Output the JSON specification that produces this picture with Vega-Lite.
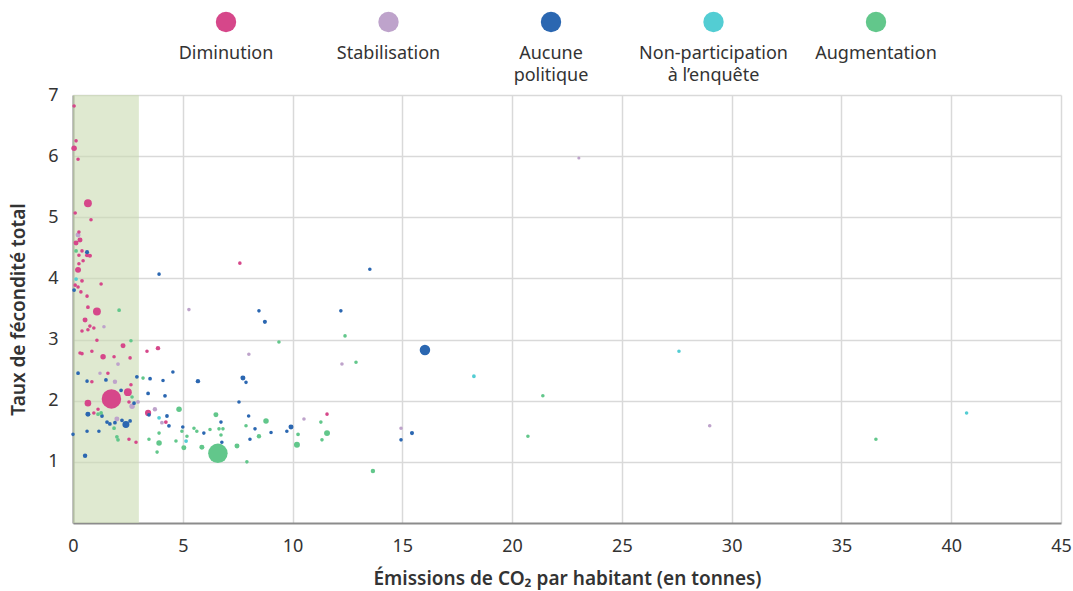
{
  "$schema": "https://vega.github.io/schema/vega-lite/v6.json",
  "padding": {"left": 9, "top": 5, "right": 1, "bottom": 3},
  "bounds": "flush",
  "spacing": 56,
  "config": {
    "font": "Noto Sans",
    "view": {"stroke": null},
    "axis": {
      "labelFont": "Noto Sans", "labelFontSize": 18, "labelColor": "#333333",
      "titleFont": "Noto Sans", "titleFontSize": 19, "titleFontWeight": 600, "titleColor": "#333333",
      "ticks": false, "domainColor": "#8c8c8c", "domainWidth": 2,
      "gridColor": "#d9d9d9", "gridWidth": 1.5, "labelFlush": false
    }
  },
  "datasets": {
    "legend": [
      {"policy": "Diminution", "label": "Diminution"},
      {"policy": "Stabilisation", "label": "Stabilisation"},
      {"policy": "Aucune politique", "label": "Aucune\npolitique"},
      {"policy": "Non-participation à l’enquête", "label": "Non-participation\nà l’enquête"},
      {"policy": "Augmentation", "label": "Augmentation"}
    ],
    "band": [{"x": 0, "x2": 3}],
    "pts": [
      {"x": 0.05, "y": 6.82, "c": "Diminution", "p": 15},
      {"x": 0.05, "y": 6.13, "c": "Diminution", "p": 80},
      {"x": 0.14, "y": 6.25, "c": "Diminution", "p": 15},
      {"x": 0.23, "y": 5.95, "c": "Diminution", "p": 15},
      {"x": 0.68, "y": 5.23, "c": "Diminution", "p": 200},
      {"x": 0.10, "y": 5.07, "c": "Diminution", "p": 15},
      {"x": 0.82, "y": 4.96, "c": "Diminution", "p": 15},
      {"x": 0.27, "y": 4.76, "c": "Diminution", "p": 15},
      {"x": 0.32, "y": 4.63, "c": "Diminution", "p": 60},
      {"x": 0.14, "y": 4.58, "c": "Diminution", "p": 60},
      {"x": 0.41, "y": 4.45, "c": "Diminution", "p": 15},
      {"x": 0.64, "y": 4.38, "c": "Diminution", "p": 30},
      {"x": 0.77, "y": 4.37, "c": "Diminution", "p": 30},
      {"x": 0.27, "y": 4.38, "c": "Diminution", "p": 15},
      {"x": 0.46, "y": 4.29, "c": "Diminution", "p": 15},
      {"x": 0.27, "y": 4.24, "c": "Diminution", "p": 15},
      {"x": 0.23, "y": 4.14, "c": "Diminution", "p": 100},
      {"x": 0.41, "y": 3.96, "c": "Diminution", "p": 20},
      {"x": 0.10, "y": 3.89, "c": "Diminution", "p": 15},
      {"x": 0.23, "y": 3.86, "c": "Diminution", "p": 15},
      {"x": 0.36, "y": 3.78, "c": "Diminution", "p": 15},
      {"x": 1.28, "y": 3.91, "c": "Diminution", "p": 15},
      {"x": 0.64, "y": 3.71, "c": "Diminution", "p": 15},
      {"x": 0.68, "y": 3.53, "c": "Diminution", "p": 20},
      {"x": 1.09, "y": 3.46, "c": "Diminution", "p": 200},
      {"x": 0.55, "y": 3.32, "c": "Diminution", "p": 60},
      {"x": 0.77, "y": 3.22, "c": "Diminution", "p": 15},
      {"x": 0.95, "y": 3.19, "c": "Diminution", "p": 15},
      {"x": 0.41, "y": 3.14, "c": "Diminution", "p": 15},
      {"x": 0.68, "y": 3.16, "c": "Diminution", "p": 15},
      {"x": 1.09, "y": 2.99, "c": "Diminution", "p": 15},
      {"x": 0.32, "y": 2.78, "c": "Diminution", "p": 15},
      {"x": 0.41, "y": 2.77, "c": "Diminution", "p": 15},
      {"x": 0.86, "y": 2.81, "c": "Diminution", "p": 15},
      {"x": 1.37, "y": 2.72, "c": "Diminution", "p": 80},
      {"x": 2.28, "y": 2.90, "c": "Diminution", "p": 60},
      {"x": 1.87, "y": 2.72, "c": "Diminution", "p": 15},
      {"x": 2.60, "y": 2.70, "c": "Diminution", "p": 15},
      {"x": 1.59, "y": 2.45, "c": "Diminution", "p": 15},
      {"x": 0.86, "y": 2.31, "c": "Diminution", "p": 15},
      {"x": 2.64, "y": 2.26, "c": "Diminution", "p": 15},
      {"x": 1.75, "y": 2.03, "c": "Diminution", "p": 1400},
      {"x": 2.50, "y": 2.14, "c": "Diminution", "p": 200},
      {"x": 0.68, "y": 1.96, "c": "Diminution", "p": 130},
      {"x": 1.14, "y": 1.86, "c": "Diminution", "p": 15},
      {"x": 0.95, "y": 1.80, "c": "Diminution", "p": 15},
      {"x": 2.55, "y": 1.37, "c": "Diminution", "p": 15},
      {"x": 2.87, "y": 1.32, "c": "Diminution", "p": 15},
      {"x": 3.42, "y": 1.80, "c": "Diminution", "p": 110},
      {"x": 4.23, "y": 1.65, "c": "Diminution", "p": 20},
      {"x": 3.87, "y": 2.86, "c": "Diminution", "p": 40},
      {"x": 3.37, "y": 2.81, "c": "Diminution", "p": 15},
      {"x": 7.60, "y": 4.25, "c": "Diminution", "p": 15},
      {"x": 11.57, "y": 1.78, "c": "Diminution", "p": 15},
      {"x": 2.55, "y": 1.98, "c": "Diminution", "p": 15},
      {"x": 0.23, "y": 4.71, "c": "Stabilisation", "p": 60},
      {"x": 1.41, "y": 3.21, "c": "Stabilisation", "p": 15},
      {"x": 2.05, "y": 2.60, "c": "Stabilisation", "p": 20},
      {"x": 1.23, "y": 2.45, "c": "Stabilisation", "p": 15},
      {"x": 1.91, "y": 2.31, "c": "Stabilisation", "p": 40},
      {"x": 2.69, "y": 1.91, "c": "Stabilisation", "p": 80},
      {"x": 2.96, "y": 1.98, "c": "Stabilisation", "p": 20},
      {"x": 2.00, "y": 1.70, "c": "Stabilisation", "p": 60},
      {"x": 3.73, "y": 1.86, "c": "Stabilisation", "p": 40},
      {"x": 4.05, "y": 1.64, "c": "Stabilisation", "p": 20},
      {"x": 5.28, "y": 3.49, "c": "Stabilisation", "p": 15},
      {"x": 8.01, "y": 2.76, "c": "Stabilisation", "p": 15},
      {"x": 12.25, "y": 2.60, "c": "Stabilisation", "p": 15},
      {"x": 10.52, "y": 1.70, "c": "Stabilisation", "p": 15},
      {"x": 14.94, "y": 1.55, "c": "Stabilisation", "p": 15},
      {"x": 29.0, "y": 1.59, "c": "Stabilisation", "p": 15},
      {"x": 23.04, "y": 5.97, "c": "Stabilisation", "p": 3},
      {"x": 0.64, "y": 4.43, "c": "Aucune politique", "p": 30},
      {"x": 0.05, "y": 3.81, "c": "Aucune politique", "p": 20},
      {"x": 0.23, "y": 2.45, "c": "Aucune politique", "p": 20},
      {"x": 0.64, "y": 2.32, "c": "Aucune politique", "p": 15},
      {"x": 1.50, "y": 2.34, "c": "Aucune politique", "p": 20},
      {"x": 2.91, "y": 2.39, "c": "Aucune politique", "p": 20},
      {"x": 2.19, "y": 2.17, "c": "Aucune politique", "p": 20},
      {"x": 2.78, "y": 1.96, "c": "Aucune politique", "p": 20},
      {"x": 0.68, "y": 1.78, "c": "Aucune politique", "p": 60},
      {"x": 2.41, "y": 1.61, "c": "Aucune politique", "p": 150},
      {"x": 1.55, "y": 1.65, "c": "Aucune politique", "p": 20},
      {"x": 1.68, "y": 1.62, "c": "Aucune politique", "p": 20},
      {"x": 1.91, "y": 1.64, "c": "Aucune politique", "p": 20},
      {"x": 2.23, "y": 1.68, "c": "Aucune politique", "p": 20},
      {"x": 2.60, "y": 1.67, "c": "Aucune politique", "p": 20},
      {"x": 1.32, "y": 1.75, "c": "Aucune politique", "p": 20},
      {"x": 0.64, "y": 1.50, "c": "Aucune politique", "p": 15},
      {"x": 1.18, "y": 1.50, "c": "Aucune politique", "p": 15},
      {"x": 0.0, "y": 1.45, "c": "Aucune politique", "p": 15},
      {"x": 0.55, "y": 1.10, "c": "Aucune politique", "p": 40},
      {"x": 3.46, "y": 1.77, "c": "Aucune politique", "p": 20},
      {"x": 4.28, "y": 1.75, "c": "Aucune politique", "p": 20},
      {"x": 4.37, "y": 1.59, "c": "Aucune politique", "p": 20},
      {"x": 3.42, "y": 2.12, "c": "Aucune politique", "p": 20},
      {"x": 4.19, "y": 2.08, "c": "Aucune politique", "p": 20},
      {"x": 3.51, "y": 2.36, "c": "Aucune politique", "p": 20},
      {"x": 4.10, "y": 2.33, "c": "Aucune politique", "p": 15},
      {"x": 4.55, "y": 2.47, "c": "Aucune politique", "p": 15},
      {"x": 5.69, "y": 2.32, "c": "Aucune politique", "p": 40},
      {"x": 7.74, "y": 2.37, "c": "Aucune politique", "p": 60},
      {"x": 7.88, "y": 2.30, "c": "Aucune politique", "p": 15},
      {"x": 7.56, "y": 1.98, "c": "Aucune politique", "p": 15},
      {"x": 5.00, "y": 1.57, "c": "Aucune politique", "p": 15},
      {"x": 5.96, "y": 1.47, "c": "Aucune politique", "p": 15},
      {"x": 6.74, "y": 1.65, "c": "Aucune politique", "p": 15},
      {"x": 6.78, "y": 1.32, "c": "Aucune politique", "p": 15},
      {"x": 8.00, "y": 1.75, "c": "Aucune politique", "p": 15},
      {"x": 8.29, "y": 1.54, "c": "Aucune politique", "p": 15},
      {"x": 9.02, "y": 1.48, "c": "Aucune politique", "p": 15},
      {"x": 8.06, "y": 1.37, "c": "Aucune politique", "p": 15},
      {"x": 9.93, "y": 1.57, "c": "Aucune politique", "p": 60},
      {"x": 9.74, "y": 1.50, "c": "Aucune politique", "p": 15},
      {"x": 3.92, "y": 4.07, "c": "Aucune politique", "p": 15},
      {"x": 8.47, "y": 3.47, "c": "Aucune politique", "p": 15},
      {"x": 8.74, "y": 3.29, "c": "Aucune politique", "p": 30},
      {"x": 12.2, "y": 3.47, "c": "Aucune politique", "p": 15},
      {"x": 13.52, "y": 4.15, "c": "Aucune politique", "p": 15},
      {"x": 16.03, "y": 2.83, "c": "Aucune politique", "p": 380},
      {"x": 15.44, "y": 1.47, "c": "Aucune politique", "p": 30},
      {"x": 14.94, "y": 1.36, "c": "Aucune politique", "p": 15},
      {"x": 0.14, "y": 3.99, "c": "Non-participation à l’enquête", "p": 20},
      {"x": 3.92, "y": 1.72, "c": "Non-participation à l’enquête", "p": 20},
      {"x": 5.15, "y": 1.34, "c": "Non-participation à l’enquête", "p": 20},
      {"x": 18.26, "y": 2.40, "c": "Non-participation à l’enquête", "p": 20},
      {"x": 27.6, "y": 2.81, "c": "Non-participation à l’enquête", "p": 15},
      {"x": 40.7, "y": 1.80, "c": "Non-participation à l’enquête", "p": 15},
      {"x": 0.14, "y": 4.45, "c": "Augmentation", "p": 20},
      {"x": 2.10, "y": 3.48, "c": "Augmentation", "p": 20},
      {"x": 2.64, "y": 2.98, "c": "Augmentation", "p": 15},
      {"x": 3.19, "y": 2.37, "c": "Augmentation", "p": 15},
      {"x": 2.69, "y": 2.06, "c": "Augmentation", "p": 15},
      {"x": 1.14, "y": 1.78, "c": "Augmentation", "p": 20},
      {"x": 1.28, "y": 1.80, "c": "Augmentation", "p": 20},
      {"x": 1.87, "y": 1.55, "c": "Augmentation", "p": 20},
      {"x": 2.00, "y": 1.41, "c": "Augmentation", "p": 20},
      {"x": 2.05, "y": 1.36, "c": "Augmentation", "p": 20},
      {"x": 4.83, "y": 1.86, "c": "Augmentation", "p": 80},
      {"x": 3.92, "y": 1.47, "c": "Augmentation", "p": 15},
      {"x": 3.92, "y": 1.31, "c": "Augmentation", "p": 80},
      {"x": 3.46, "y": 1.37, "c": "Augmentation", "p": 15},
      {"x": 3.83, "y": 1.16, "c": "Augmentation", "p": 15},
      {"x": 4.69, "y": 1.34, "c": "Augmentation", "p": 15},
      {"x": 5.05, "y": 1.23, "c": "Augmentation", "p": 60},
      {"x": 4.96, "y": 1.50, "c": "Augmentation", "p": 15},
      {"x": 5.19, "y": 1.42, "c": "Augmentation", "p": 15},
      {"x": 5.51, "y": 1.55, "c": "Augmentation", "p": 15},
      {"x": 5.64, "y": 1.50, "c": "Augmentation", "p": 15},
      {"x": 5.87, "y": 1.24, "c": "Augmentation", "p": 60},
      {"x": 6.24, "y": 1.53, "c": "Augmentation", "p": 15},
      {"x": 6.51, "y": 1.77, "c": "Augmentation", "p": 60},
      {"x": 6.65, "y": 1.54, "c": "Augmentation", "p": 15},
      {"x": 6.83, "y": 1.54, "c": "Augmentation", "p": 15},
      {"x": 6.74, "y": 1.44, "c": "Augmentation", "p": 15},
      {"x": 6.60, "y": 1.14, "c": "Augmentation", "p": 1400},
      {"x": 7.47, "y": 1.26, "c": "Augmentation", "p": 60},
      {"x": 7.88, "y": 1.59, "c": "Augmentation", "p": 15},
      {"x": 8.79, "y": 1.67, "c": "Augmentation", "p": 80},
      {"x": 8.47, "y": 1.42, "c": "Augmentation", "p": 40},
      {"x": 7.92, "y": 1.00, "c": "Augmentation", "p": 15},
      {"x": 10.25, "y": 1.45, "c": "Augmentation", "p": 20},
      {"x": 10.20, "y": 1.28, "c": "Augmentation", "p": 100},
      {"x": 11.29, "y": 1.65, "c": "Augmentation", "p": 15},
      {"x": 11.57, "y": 1.47, "c": "Augmentation", "p": 100},
      {"x": 11.34, "y": 1.36, "c": "Augmentation", "p": 15},
      {"x": 13.66, "y": 0.85, "c": "Augmentation", "p": 40},
      {"x": 9.38, "y": 2.96, "c": "Augmentation", "p": 15},
      {"x": 12.39, "y": 3.06, "c": "Augmentation", "p": 15},
      {"x": 12.89, "y": 2.63, "c": "Augmentation", "p": 15},
      {"x": 21.4, "y": 2.08, "c": "Augmentation", "p": 15},
      {"x": 20.72, "y": 1.42, "c": "Augmentation", "p": 15},
      {"x": 36.57, "y": 1.37, "c": "Augmentation", "p": 15}
    ]
  },
  "vconcat": [
    {
      "width": 988,
      "height": 34,
      "data": {"name": "legend"},
      "layer": [
        {
          "mark": {"type": "circle", "size": 415, "opacity": 1},
          "encoding": {
            "x": {"field": "policy", "type": "nominal", "axis": null,
                  "scale": {"type": "point", "padding": 0, "domain": ["Diminution", "Stabilisation", "Aucune politique", "Non-participation à l’enquête", "Augmentation"], "range": [153, 803]}},
            "color": {"field": "policy", "type": "nominal", "legend": null,
                      "scale": {"domain": ["Diminution", "Stabilisation", "Aucune politique", "Non-participation à l’enquête", "Augmentation"],
                                "range": ["#d6478a", "#bea3cb", "#2b67b1", "#53cdd3", "#62c78b"]}}
          }
        },
        {
          "mark": {"type": "text", "baseline": "top", "dy": 23, "fontSize": 18, "lineBreak": "\n", "lineHeight": 22, "color": "#333333", "font": "Noto Sans"},
          "encoding": {
            "x": {"field": "policy", "type": "nominal", "axis": null,
                  "scale": {"type": "point", "padding": 0, "domain": ["Diminution", "Stabilisation", "Aucune politique", "Non-participation à l’enquête", "Augmentation"], "range": [153, 803]}},
            "text": {"field": "label", "type": "nominal"}
          }
        }
      ]
    },
    {
      "width": 988,
      "height": 428,
      "layer": [
        {
          "data": {"name": "band"},
          "mark": {"type": "rect", "color": "#cadab1", "opacity": 0.6},
          "encoding": {
            "x": {"field": "x", "type": "quantitative", "scale": {"domain": [0, 45], "nice": false}},
            "x2": {"field": "x2"}
          }
        },
        {
          "data": {"name": "pts"},
          "mark": {"type": "circle", "opacity": 1},
          "encoding": {
            "x": {"field": "x", "type": "quantitative", "scale": {"domain": [0, 45], "nice": false},
                  "axis": {"title": "Émissions de CO₂ par habitant (en tonnes)", "values": [0, 5, 10, 15, 20, 25, 30, 35, 40, 45], "labelPadding": 14, "titlePadding": 14, "grid": true, "labelFlush": false}},
            "y": {"field": "y", "type": "quantitative", "scale": {"domain": [0, 7], "nice": false},
                  "axis": {"title": "Taux de fécondité total", "values": [1, 2, 3, 4, 5, 6, 7], "labelPadding": 15, "titlePadding": 19, "grid": true, "labelFlush": false}},
            "color": {"field": "c", "type": "nominal", "legend": null,
                      "scale": {"domain": ["Diminution", "Stabilisation", "Aucune politique", "Non-participation à l’enquête", "Augmentation"],
                                "range": ["#d6478a", "#bea3cb", "#2b67b1", "#53cdd3", "#62c78b"]}},
            "size": {"field": "p", "type": "quantitative", "legend": null, "scale": {"domain": [0, 1400], "range": [9, 380]}},
            "order": {"field": "p", "type": "quantitative", "sort": "descending"}
          }
        }
      ]
    }
  ]
}
